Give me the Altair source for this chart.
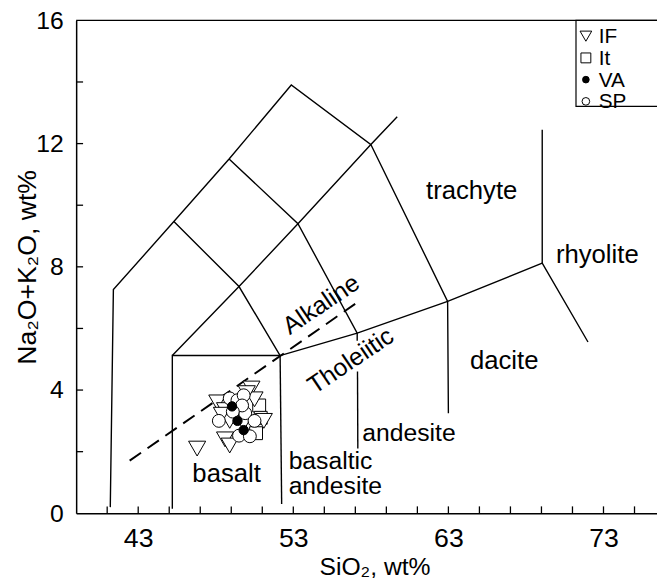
import altair as alt
import pandas as pd

# ---------------- boundary polylines of the TAS classification ----------------
seg_id = (["A"] * 7 + ["B"] * 3 + ["C"] * 7 + ["D"] * 2 + ["E"] * 2 +
          ["F"] * 4 + ["G"] * 3 + ["H"] * 4 + ["I"] * 2)
seg_x = [41.2, 41.4, 45.3, 48.86, 52.87, 58.0, 59.7,
         58.0, 62.95, 63.0,
         45.2, 45.2, 52.15, 57.12, 62.95, 69.05, 72.0,
         69.05, 69.05,
         52.15, 52.25,
         45.2, 49.5, 53.3, 58.0,
         45.3, 49.5, 52.15,
         48.86, 53.3, 57.12, 57.12,
         57.14, 57.16]
seg_y = [0.2, 7.26, 9.47, 11.5, 13.9, 11.97, 12.87,
         11.97, 6.88, 3.25,
         0.15, 5.12, 5.12, 5.85, 6.88, 8.12, 5.56,
         8.12, 12.45,
         5.12, 0.3,
         5.12, 7.36, 9.4, 11.97,
         9.47, 7.36, 5.12,
         11.5, 9.4, 5.85, 5.6,
         4.6, 2.1]

# Alkaline / Tholeiitic dashed divide
dash_x = [42.45, 57.4]
dash_y = [1.71, 6.94]

# ---------------- samples ----------------
groups = ["IF", "It", "VA", "SP"]
IF_x = [46.8, 48.1, 48.6, 50.3, 50.5, 51.1, 48.9, 48.6, 48.9, 49.8, 50.0, 48.4]
IF_y = [2.1, 3.6, 3.35, 4.05, 3.7, 3.0, 3.0, 2.4, 2.2, 2.93, 3.9, 3.2]
It_x = [50.8, 50.6, 50.9]
It_y = [3.5, 2.6, 3.1]
SP_x = [48.9, 49.4, 49.8, 49.9, 48.2, 50.5, 49.5, 50.2, 49.7, 49.1]
SP_y = [3.73, 3.67, 3.83, 3.25, 3.0, 3.0, 2.52, 2.5, 3.5, 3.3]
VA_x = [49.05, 49.4, 49.8]
VA_y = [3.47, 3.0, 2.7]

# ---------------- field labels ----------------
lab_text = ["trachyte", "rhyolite", "dacite", "basalt"]
lab_x = [64.5, 72.6, 66.6, 48.7]
lab_y = [10.45, 8.38, 4.95, 1.27]
left_text = ["andesite", "basaltic", "andesite"]
left_x = [57.45, 52.7, 52.7]
left_y = [2.61, 1.68, 0.88]
rot_text = ["Alkaline", "Tholeiitic"]
rot_x = [54.8, 56.7]
rot_y = [6.78, 4.95]

x_ticks = list(range(41, 76, 2))
y_ticks = list(range(2, 16, 2))

FONT = "Liberation Sans"
W, H = 588, 499

lines_df = pd.DataFrame({"seg": seg_id, "x": seg_x, "y": seg_y,
                         "ord": list(range(len(seg_id)))})
dash_df = pd.DataFrame({"x": dash_x, "y": dash_y})
lab_df = pd.DataFrame({"t": lab_text, "x": lab_x, "y": lab_y})
left_df = pd.DataFrame({"t": left_text, "x": left_x, "y": left_y})
rot_df = pd.DataFrame({"t": rot_text, "x": rot_x, "y": rot_y})
xt_df = pd.DataFrame({"x": x_ticks})
yt_df = pd.DataFrame({"y": y_ticks})

x_scale = alt.Scale(domain=[39, 76.45], nice=False, zero=False)
y_scale = alt.Scale(domain=[0, 16], nice=False, zero=False)

X = alt.X("x:Q", scale=x_scale, title="SiO₂, wt%",
          axis=alt.Axis(values=x_ticks,
                        labelExpr="(datum.value - 43) % 10 == 0 ? datum.label : ''",
                        tickSize=0, grid=False, labelPadding=13, labelFontSize=27,
                        titleX=302, titleAlign="center", titleFontSize=25,
                        titleY=54, titleBaseline="middle",
                        labelFlush=False))
Y = alt.Y("y:Q", scale=y_scale, title="Na₂O+K₂O, wt%",
          axis=alt.Axis(values=[0, 4, 8, 12, 16], tickSize=0, grid=False,
                        labelPadding=13, labelFontSize=25, titleFontSize=27,
                        titleX=-49, titleBaseline="middle"))

lines = alt.Chart(lines_df).mark_line(color="black", strokeWidth=1.4).encode(
    x=X, y=Y, detail="seg:N", order="ord:Q")
dashed = alt.Chart(dash_df).mark_line(color="black", strokeWidth=2,
                                      strokeDash=[14, 8]).encode(x=X, y=Y)

xt = alt.Chart(xt_df).mark_rule(color="black", strokeWidth=1.3).encode(
    x=X, y=alt.value(H), y2=alt.value(H - 7))
yt = alt.Chart(yt_df).mark_rule(color="black", strokeWidth=1.3).encode(
    y=Y, x=alt.value(0), x2=alt.value(7))
one = pd.DataFrame({"a": [0]})
top = alt.Chart(one).mark_rule(color="black", strokeWidth=1.5).encode(
    x=alt.value(0), x2=alt.value(W + 5), y=alt.value(0))

shape_scale = alt.Scale(domain=groups, range=["triangle-down", "square", "circle", "circle"])
fill_scale = alt.Scale(domain=groups, range=["white", "white", "black", "white"])

point_layers = []
for g, xs, ys, sz in [("It", It_x, It_y, 170), ("IF", IF_x, IF_y, 300),
                      ("SP", SP_x, SP_y, 170), ("VA", VA_x, VA_y, 90)]:
    df = pd.DataFrame({"group": g, "x": xs, "y": ys})
    point_layers.append(
        alt.Chart(df).mark_point(filled=False, color="black", stroke="black",
                                 strokeWidth=1, opacity=1, fillOpacity=1,
                                 size=sz).encode(
            x=X, y=Y,
            shape=alt.Shape("group:N", scale=shape_scale, legend=None),
            fill=alt.Fill("group:N", scale=fill_scale, legend=None),
        )
    )

# ---------------- legend (box placed in the top-right corner) ----------------
LX, LY, ROW = 506, 0, 22
legend_box = alt.Chart(one).mark_rect(fill="white", stroke="black", strokeWidth=1.2).encode(
    x=alt.value(LX), x2=alt.value(W + 40), y=alt.value(LY), y2=alt.value(LY + 87))
legend_layers = [legend_box]
for i, (g, sz) in enumerate(zip(groups, [140, 100, 45, 60])):
    row = pd.DataFrame({"group": [g]})
    yy = LY + 16 + i * ROW
    legend_layers.append(
        alt.Chart(row).mark_point(filled=False, color="black", stroke="black",
                                  strokeWidth=1, opacity=1, fillOpacity=1, size=sz).encode(
            x=alt.value(LX + 10), y=alt.value(yy),
            shape=alt.Shape("group:N", scale=shape_scale, legend=None),
            fill=alt.Fill("group:N", scale=fill_scale, legend=None),
        ))
    legend_layers.append(
        alt.Chart(row).mark_text(font=FONT, fontSize=21, color="black", align="left",
                                 baseline="middle").encode(
            x=alt.value(LX + 23), y=alt.value(yy + 1), text="group:N"))

labels = alt.Chart(lab_df).mark_text(font=FONT, fontSize=26, color="black",
                                      align="center", baseline="middle").encode(
    x=X, y=Y, text="t:N")
left_labels = alt.Chart(left_df).mark_text(font=FONT, fontSize=25, color="black",
                                           align="left", baseline="middle").encode(
    x=X, y=Y, text="t:N")
rot_labels = alt.Chart(rot_df).mark_text(font=FONT, fontSize=25, color="black",
                                          align="center", baseline="middle",
                                          angle=326).encode(
    x=X, y=Y, text="t:N")

chart = alt.layer(lines, dashed, xt, yt, top, labels, left_labels, rot_labels,
                  *point_layers, *legend_layers).properties(
    width=W, height=H,
    padding={"left": 69, "top": 9, "right": 0, "bottom": 63},
    autosize=alt.AutoSizeParams(type="none"),
).configure_view(stroke=None).configure_axis(
    domainColor="black", domainWidth=1.5,
    labelFont=FONT, labelColor="black",
    titleFont=FONT, titleColor="black", titleFontWeight="normal",
)

chart.save("out.html", embed_options={"renderer": "svg", "actions": False})
